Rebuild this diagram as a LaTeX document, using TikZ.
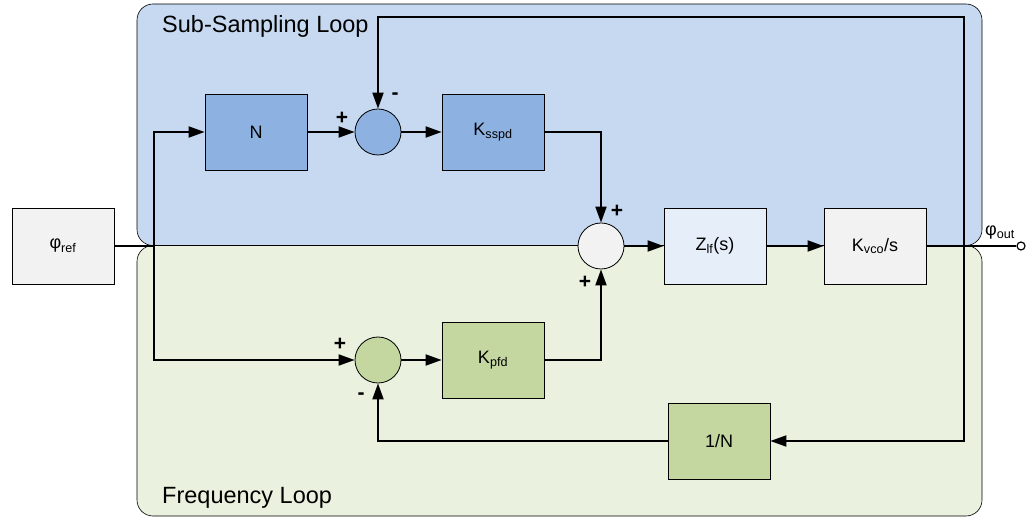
\documentclass[tikz,border=0pt]{standalone}
\usepackage{fontspec}
\setmainfont{Liberation Sans}
\usetikzlibrary{arrows.meta}

\definecolor{ssbg}{RGB}{198,217,240}
\definecolor{flbg}{RGB}{234,241,222}
\definecolor{ssblk}{RGB}{141,178,226}
\definecolor{flblk}{RGB}{196,215,160}
\definecolor{greyblk}{RGB}{242,242,242}
\definecolor{lfblk}{RGB}{230,238,249}

\begin{document}
\begin{tikzpicture}[x=1pt,y=-1pt,
    blk/.style={draw,line width=0.8pt,minimum width=102pt,minimum height=76pt,inner sep=0pt,font=\fontsize{18}{20}\selectfont},
    sum/.style={circle,draw,line width=0.8pt,minimum size=46pt,inner sep=0pt},
    sig/.style={line width=1.9pt},
    arr/.style={sig,-{Triangle[length=16pt,width=11pt]}},
    sgn/.style={font=\fontsize{21}{22}\selectfont\bfseries}]

\useasboundingbox (0,0) rectangle (1036,518);

% the two loop areas
\draw[fill=ssbg,rounded corners=16pt,line width=0.6pt] (137,4) rectangle (982,245.5);
\draw[fill=flbg,rounded corners=16pt,line width=0.6pt] (137,245.5) rectangle (982,516);
\node[anchor=base west,font=\fontsize{23.5}{26}\selectfont,inner sep=0pt] (sslabel) at (162,33) {Sub-Sampling Loop};
\node[anchor=base west,font=\fontsize{23.5}{26}\selectfont,inner sep=0pt] (fllabel) at (162,503) {Frequency Loop};

% blocks
\node[blk,fill=greyblk] (phiref) at (63,246) {φ\textsubscript{ref}};
\node[blk,fill=ssblk] (nblk) at (256,132) {N};
\node[sum,fill=ssblk] (sumss) at (378,132) {};
\node[blk,fill=ssblk] (ksspd) at (493,132) {K\textsubscript{sspd}};
\node[sum,fill=greyblk] (summain) at (601,246) {};
\node[blk,fill=lfblk] (zlf) at (715,246) {Z\textsubscript{lf}(s)};
\node[blk,fill=greyblk] (kvco) at (875,246) {K\textsubscript{vco}/s};
\node[sum,fill=flblk] (sumfl) at (378,360) {};
\node[blk,fill=flblk] (kpfd) at (493,360) {K\textsubscript{pfd}};
\node[blk,fill=flblk] (divn) at (719,441) {1/N};
\node[circle,draw,line width=1.2pt,inner sep=0pt,minimum size=8pt,fill=white] (out) at (1021,246) {};
\node[font=\fontsize{18}{20}\selectfont] (outlabel) at (1000,233) {φ\textsubscript{out}};

% branch points
\coordinate (split) at (154,246);
\coordinate (tap) at (964,246);
\coordinate (topfb) at (964,17);

% connectors
\draw[sig] (phiref) -- (split);
\draw[arr] (split) |- (nblk);
\draw[arr] (split) |- (sumfl);
\draw[arr] (nblk) -- (sumss);
\draw[arr] (sumss) -- (ksspd);
\draw[arr] (ksspd) -| (summain);
\draw[arr] (kpfd) -| (summain);
\draw[arr] (summain) -- (zlf);
\draw[arr] (zlf) -- (kvco);
\draw[line width=1.4pt] (kvco) -- (out);
\draw[arr] (tap) -- (topfb) -| (sumss);
\draw[arr] (tap) |- (divn);
\draw[arr] (divn) -| (sumfl);
\draw[arr] (sumfl) -- (kpfd);

% signs at the summing points
\foreach \x/\y/\s [count=\i] in {342/118/+, 395/96/-, 617/211/+, 585/282/+, 340/344/+, 361/396/-} {
    \node[sgn] (sgn\i) at (\x,\y) {\s};
}

\end{tikzpicture}
\end{document}
